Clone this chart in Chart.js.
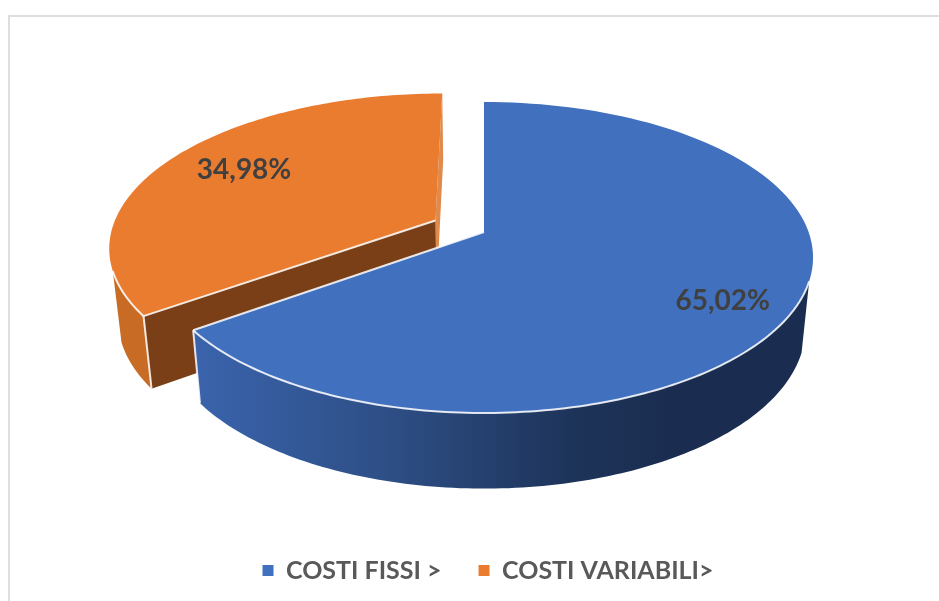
<!DOCTYPE html>
<html>
<head>
<meta charset="utf-8">
<script src="https://cdn.jsdelivr.net/npm/chart.js@4"></script>
<style>
	html, body { margin: 0; background: #fff; overflow: hidden; }
	#frame { position: absolute; left: 8px; top: 15px; width: 931px; height: 586px; border-top: 2px solid #dedede; border-left: 2px solid #dedede; box-sizing: border-box; }
	canvas { position: absolute; left: 0; top: 0; }
</style>
</head>
<body>
<div id="frame"></div>
<canvas id="myChart" width="939" height="601"></canvas>
<script>
const categories = ["COSTI FISSI >", "COSTI VARIABILI>"];
const shares = [65.02, 34.98];
const explode = [0, 0.17];
const colors = ["#4170bf", "#ea7c30"];

// perspective of the 3d pie: top face and bottom face of the disc
const tilt = 0.164;
const topFace = { cx: 484, cy: 232, a: 324.6, b: 151.3 };
const bottomFace = { cx: 484, cy: 302, a: 317, b: 156 };

const rad = (deg) => (deg * Math.PI) / 180;

const project = (u, v, face) => {
	const w = 1 - tilt * v;
	return [face.cx + (face.a * u) / w, face.cy + (face.b * v) / w];
};

// point of a slice, angle in chart.js radians, r = 1 on the rim
const slicePoint = (arc, i, angle, r, face) => {
	const mid = (arc.startAngle + arc.endAngle) / 2;
	const u = explode[i] * Math.cos(mid) + r * Math.cos(angle);
	const v = explode[i] * Math.sin(mid) + r * Math.sin(angle);
	return project(u, v, face);
};

const rimPoints = (arc, i, from, to, face) => {
	const pts = [];
	const steps = 120;
	for (let s = 0; s <= steps; s++) {
		pts.push(slicePoint(arc, i, from + ((to - from) * s) / steps, 1, face));
	}
	return pts;
};

const fillPoly = (ctx, pts, fill) => {
	ctx.beginPath();
	pts.forEach((p, n) => (n ? ctx.lineTo(p[0], p[1]) : ctx.moveTo(p[0], p[1])));
	ctx.closePath();
	ctx.fillStyle = fill;
	ctx.fill();
};

const strokeLine = (ctx, pts, width = 2) => {
	ctx.beginPath();
	pts.forEach((p, n) => (n ? ctx.lineTo(p[0], p[1]) : ctx.moveTo(p[0], p[1])));
	ctx.strokeStyle = "rgba(255,255,255,0.85)";
	ctx.lineWidth = width;
	ctx.lineJoin = "round";
	ctx.stroke();
};

const getWallFill = (ctx, i) => {
	if (i === 1) return "#c86b25";
	const grad = ctx.createLinearGradient(200, 0, 810, 0);
	grad.addColorStop(0, "#3a63ab");
	grad.addColorStop(0.3, "#2e4f87");
	grad.addColorStop(0.62, "#1d3358");
	grad.addColorStop(0.78, "#1a2d50");
	grad.addColorStop(1, "#1a2d50");
	return grad;
};

const drawSlice = (ctx, arc, i) => {
	const start = arc.startAngle;
	const end = arc.endAngle;
	const apexTop = slicePoint(arc, i, 0, 0, topFace);
	const apexBottom = slicePoint(arc, i, 0, 0, bottomFace);

	if (i === 1) {
		// cut faces of the pulled out slice
		const endTop = slicePoint(arc, i, end, 1, topFace);
		const endBottom = slicePoint(arc, i, end, 1, bottomFace);
		fillPoly(ctx, [endTop, apexTop, apexBottom, endBottom], "#e08a4c");
		const startTop = slicePoint(arc, i, start, 1, topFace);
		const startBottom = slicePoint(arc, i, start, 1, bottomFace);
		fillPoly(ctx, [startTop, apexTop, apexBottom, startBottom], "#7a3f17");
	}

	// outer wall, only the part that faces the viewer
	const wallFrom = i === 1 ? start : rad(18);
	const wallTo = i === 1 ? rad(161) : end;
	const wallTop = rimPoints(arc, i, wallFrom, wallTo, topFace);
	const wallBottom = rimPoints(arc, i, wallFrom, wallTo, bottomFace).reverse();
	fillPoly(ctx, wallTop.concat(wallBottom), getWallFill(ctx, i));

	// top face
	const rim = rimPoints(arc, i, start, end, topFace);
	fillPoly(ctx, [apexTop].concat(rim), arc.options.backgroundColor);

	// white edges
	strokeLine(ctx, wallTop);
	const cornerAngle = i === 1 ? start : end;
	const cornerTop = slicePoint(arc, i, cornerAngle, 1, topFace);
	const cornerBottom = slicePoint(arc, i, cornerAngle, 1, bottomFace);
	strokeLine(ctx, [apexTop, cornerTop]);
	strokeLine(ctx, [cornerTop, cornerBottom]);
};

const pie3d = {
	id: "pie3d",
	beforeDatasetDraw(chart, args) {
		const ctx = chart.ctx;
		const arcs = chart.getDatasetMeta(args.index).data;
		ctx.save();
		for (let i = arcs.length - 1; i >= 0; i--) drawSlice(ctx, arcs[i], i);

		// data labels
		const labelShift = [[9, 14], [9, -3]];
		ctx.font = "bold 28px Lato";
		ctx.fillStyle = "#404040";
		ctx.textAlign = "center";
		ctx.textBaseline = "middle";
		arcs.forEach((arc, i) => {
			const mid = (arc.startAngle + arc.endAngle) / 2;
			const p = slicePoint(arc, i, mid, 0.75, topFace);
			const text = `${shares[i].toFixed(2).replace(".", ",")}%`;
			ctx.fillText(text, p[0] + labelShift[i][0], p[1] + labelShift[i][1]);
		});
		ctx.restore();
		return false;
	},
};

new Chart(document.getElementById("myChart").getContext("2d"), {
	type: "pie",
	data: {
		labels: categories,
		datasets: [{ data: shares, backgroundColor: colors, borderWidth: 0 }],
	},
	options: {
		responsive: false,
		animation: false,
		layout: { padding: { left: 37, bottom: 8 } },
		plugins: {
			tooltip: { enabled: false },
			legend: {
				position: "bottom",
				labels: {
					boxWidth: 11,
					boxHeight: 11,
					padding: 37,
					color: "#595959",
					font: { family: "Lato", size: 25, weight: "bold" },
				},
			},
		},
	},
	plugins: [pie3d],
});
</script>
</body>
</html>
